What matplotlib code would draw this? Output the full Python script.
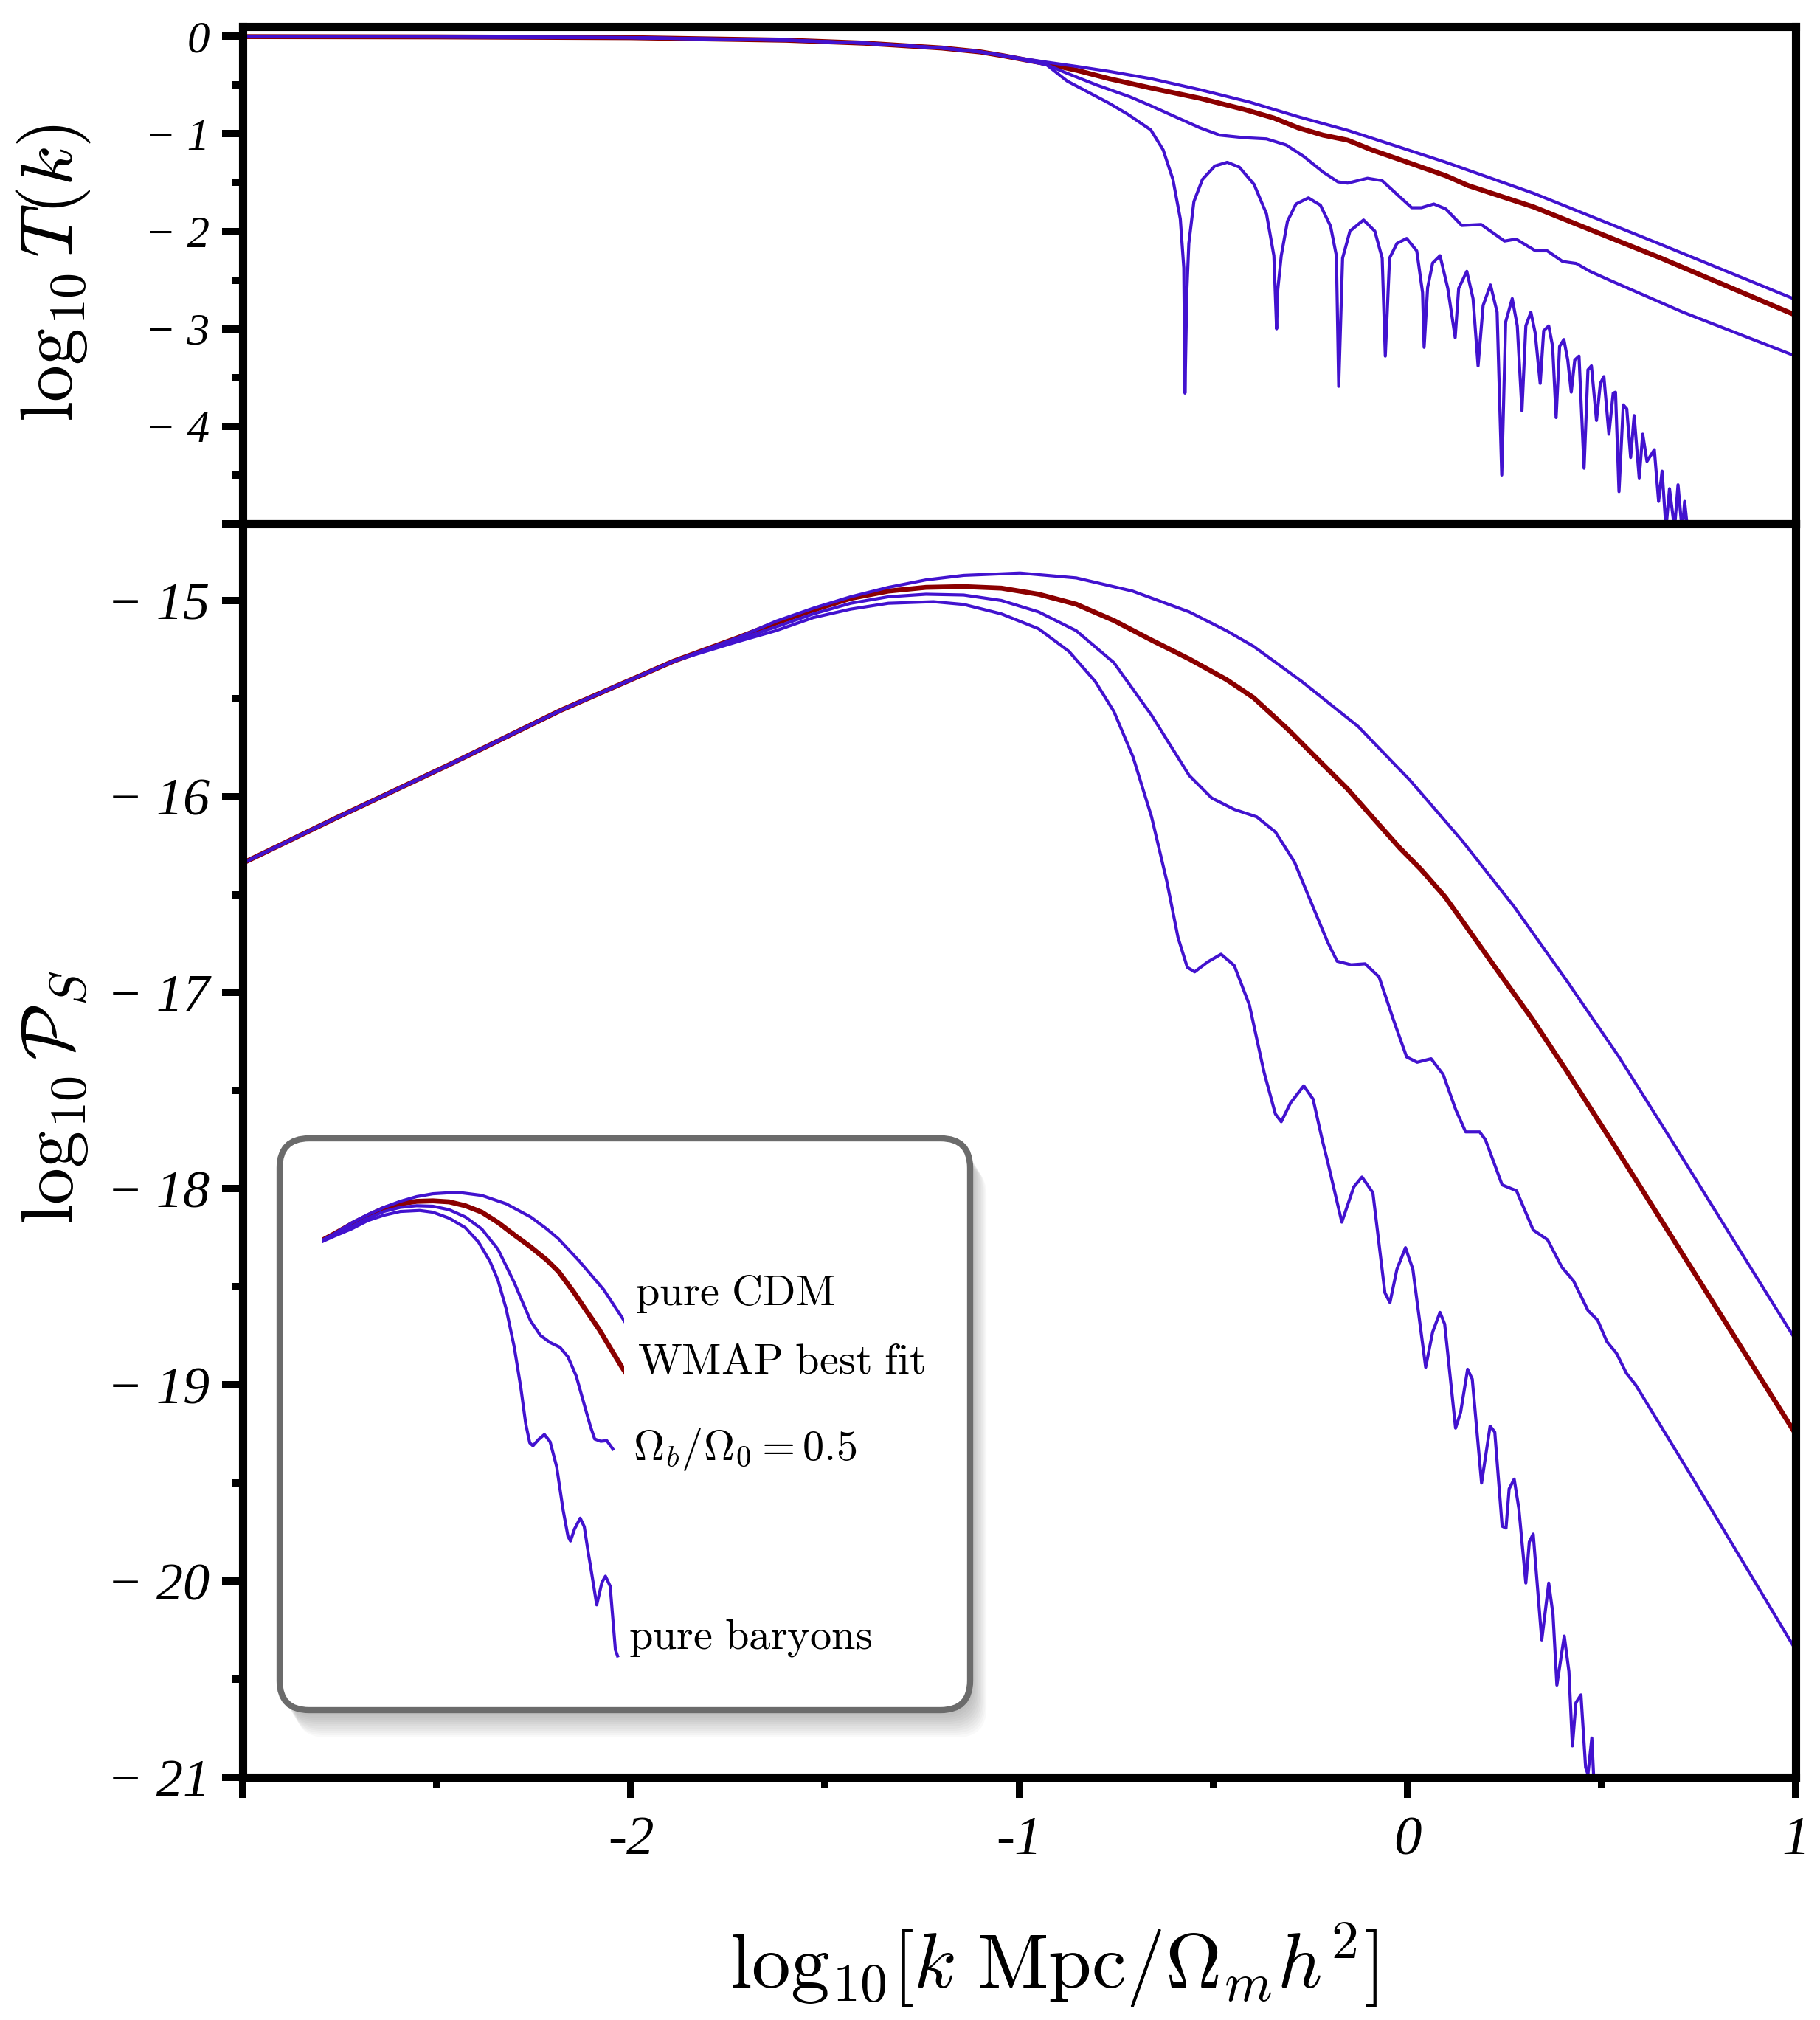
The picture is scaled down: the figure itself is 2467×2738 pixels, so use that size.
import numpy as np
import matplotlib
matplotlib.use('Agg')
import matplotlib.pyplot as plt
from matplotlib.patches import FancyBboxPatch

plt.rcParams['mathtext.fontset'] = 'cm'

# ---------------- top panel: log10 T(k) ----------------
xT_cdm = [-3.0, -2.5, -2.0, -1.6, -1.4, -1.2, -1.1, -1.04, -0.98, -0.93, -0.85, -0.768, -0.661, -0.534, -0.407,
          -0.281, -0.154, -0.027, 0.099, 0.325, 0.65, 1.0]
yT_cdm = [-0.003, -0.006, -0.014, -0.04, -0.07, -0.12, -0.16, -0.195, -0.235, -0.265, -0.31, -0.36, -0.434, -0.548,
          -0.674, -0.825, -0.964, -1.128, -1.292, -1.61, -2.13, -2.70]

xT_wmap = [-3.0, -2.5, -2.0, -1.6, -1.4, -1.2, -1.1, -1.04, -0.98, -0.93, -0.85, -0.768, -0.661, -0.534, -0.420,
           -0.344, -0.281, -0.217, -0.154, -0.091, -0.027, 0.036, 0.099, 0.156, 0.325, 0.65, 1.0]
yT_wmap = [-0.003, -0.006, -0.014, -0.04, -0.07, -0.12, -0.16, -0.2, -0.245, -0.28, -0.35, -0.435, -0.53, -0.636,
           -0.75, -0.838, -0.939, -1.014, -1.065, -1.166, -1.254, -1.342, -1.43, -1.53, -1.75, -2.27, -2.86]

xT_half = [-3.0, -2.5, -2.0, -1.6, -1.4, -1.2, -1.1, -1.04, -0.98, -0.93, -0.876, -0.80, -0.715, -0.661, -0.598,
           -0.534, -0.483, -0.420, -0.363, -0.312, -0.268, -0.217, -0.179, -0.154, -0.103, -0.065, -0.027, 0.011,
           0.036, 0.068, 0.099, 0.14, 0.19, 0.25, 0.28, 0.33, 0.36, 0.40, 0.435, 0.47, 0.52, 0.71, 1.0]
yT_half = [-0.003, -0.006, -0.014, -0.04, -0.07, -0.12, -0.16, -0.2, -0.25, -0.29, -0.38, -0.50, -0.62, -0.712,
           -0.825, -0.939, -1.014, -1.04, -1.052, -1.115, -1.229, -1.393, -1.493, -1.506, -1.456, -1.481, -1.62,
           -1.758, -1.758, -1.72, -1.771, -1.94, -1.93, -2.10, -2.08, -2.20, -2.20, -2.31, -2.33, -2.41, -2.50,
           -2.83, -3.28]

xT_bar = [-3.0, -2.5, -2.0, -1.6, -1.4, -1.2, -1.1, -1.04, -0.98, -0.93, -0.876, -0.768, -0.72, -0.661, -0.629,
          -0.604, -0.585, -0.576, -0.573, -0.568, -0.563, -0.550, -0.528, -0.496, -0.464, -0.433, -0.395, -0.363,
          -0.344, -0.337, -0.334, -0.325, -0.309, -0.287, -0.255, -0.224, -0.198, -0.183, -0.177, -0.167, -0.148,
          -0.113, -0.084, -0.065, -0.057, -0.046, -0.027, -0.002, 0.024, 0.039, 0.043, 0.052, 0.065, 0.084,
          0.104, 0.123, 0.132, 0.153, 0.169, 0.182, 0.195, 0.214, 0.231, 0.243, 0.253, 0.270, 0.283, 0.295,
          0.305, 0.318, 0.329, 0.342, 0.351, 0.364, 0.374, 0.383, 0.392, 0.403, 0.413, 0.422, 0.431, 0.442,
          0.455, 0.465, 0.474, 0.487, 0.497, 0.506, 0.519, 0.530, 0.536, 0.545, 0.556, 0.565, 0.575, 0.584,
          0.597, 0.606, 0.617, 0.636, 0.647, 0.656, 0.666, 0.675, 0.688, 0.697, 0.708, 0.714, 0.725]
yT_bar = [-0.003, -0.006, -0.014, -0.04, -0.07, -0.12, -0.16, -0.2, -0.25, -0.29, -0.46, -0.687, -0.80, -0.96,
          -1.166, -1.468, -1.872, -2.376, -3.66, -2.6, -2.124, -1.695, -1.468, -1.33, -1.292, -1.342, -1.519,
          -1.821, -2.25, -3.00, -2.6, -2.25, -1.897, -1.72, -1.657, -1.733, -1.947, -2.25, -3.59, -2.275, -1.998,
          -1.884, -1.998, -2.275, -3.28, -2.275, -2.124, -2.073, -2.2, -2.628, -3.19, -2.578, -2.325, -2.25,
          -2.585, -3.09, -2.585, -2.41, -2.69, -3.38, -2.76, -2.55, -2.83, -4.50, -2.93, -2.69, -2.97, -3.84,
          -2.97, -2.83, -3.04, -3.56, -3.02, -2.97, -3.18, -3.91, -3.18, -3.11, -3.32, -3.65, -3.32, -3.28,
          -4.43, -3.42, -3.38, -3.94, -3.56, -3.49, -4.08, -3.66, -3.65, -4.67, -3.78, -3.82, -4.32, -3.89,
          -4.53, -4.08, -4.36, -4.24, -4.77, -4.46, -5.05, -4.64, -5.05, -4.60, -5.09, -4.77, -5.19]

# ---------------- bottom panel: log10 P_S ----------------
xP_cdm = [-3.0, -2.76, -2.47, -2.18, -1.89, -1.724, -1.627, -1.530, -1.434, -1.337, -1.240, -1.143, -0.998,
          -0.853, -0.708, -0.562, -0.466, -0.396, -0.272, -0.127, 0.007, 0.142, 0.276, 0.41, 0.545, 0.674,
          0.877, 1.0]
yP_cdm = [-16.34, -16.11, -15.84, -15.56, -15.31, -15.19, -15.107, -15.04, -14.982, -14.934, -14.896, -14.873,
          -14.861, -14.886, -14.953, -15.059, -15.155, -15.235, -15.414, -15.643, -15.918, -16.228, -16.565,
          -16.938, -17.328, -17.733, -18.38, -18.77]

xP_wmap = [-3.0, -2.76, -2.47, -2.18, -1.89, -1.724, -1.627, -1.530, -1.434, -1.337, -1.240, -1.143, -1.046,
           -0.950, -0.853, -0.756, -0.659, -0.562, -0.466, -0.396, -0.306, -0.217, -0.154, -0.091, -0.019, 0.034,
           0.097, 0.142, 0.231, 0.321, 0.41, 0.518, 0.730, 1.0]
yP_wmap = [-16.34, -16.11, -15.84, -15.56, -15.31, -15.19, -15.116, -15.049, -14.99, -14.953, -14.934, -14.93,
           -14.938, -14.969, -15.02, -15.103, -15.203, -15.299, -15.404, -15.497, -15.661, -15.838, -15.962,
           -16.104, -16.264, -16.37, -16.512, -16.636, -16.885, -17.133, -17.399, -17.733, -18.40, -19.25]

xP_half = [-3.0, -2.76, -2.47, -2.18, -1.89, -1.724, -1.627, -1.530, -1.434, -1.337, -1.240, -1.143, -1.046,
           -0.950, -0.853, -0.756, -0.659, -0.562, -0.504, -0.446, -0.388, -0.340, -0.291, -0.243, -0.206, -0.181,
           -0.145, -0.109, -0.073, -0.037, -0.002, 0.025, 0.061, 0.092, 0.124, 0.15, 0.186, 0.201, 0.244, 0.281,
           0.324, 0.361, 0.398, 0.428, 0.465, 0.49, 0.514, 0.539, 0.564, 0.588, 0.73, 1.0]
yP_half = [-16.34, -16.11, -15.84, -15.56, -15.31, -15.20, -15.136, -15.069, -15.015, -14.982, -14.969, -14.973,
           -15.001, -15.059, -15.155, -15.318, -15.586, -15.893, -16.008, -16.066, -16.104, -16.181, -16.334,
           -16.564, -16.74, -16.84, -16.858, -16.853, -16.92, -17.133, -17.328, -17.355, -17.337, -17.417,
           -17.594, -17.71, -17.71, -17.75, -17.98, -18.01, -18.21, -18.26, -18.40, -18.47, -18.62, -18.67,
           -18.78, -18.84, -18.94, -19.0, -19.46, -20.35]

xP_bar = [-3.0, -2.76, -2.47, -2.18, -1.89, -1.724, -1.627, -1.530, -1.434, -1.337, -1.221, -1.143, -1.046,
          -0.950, -0.872, -0.804, -0.756, -0.707, -0.659, -0.620, -0.591, -0.567, -0.548, -0.514, -0.480, -0.446,
          -0.407, -0.369, -0.340, -0.325, -0.301, -0.267, -0.243, -0.219, -0.205, -0.169, -0.138, -0.117, -0.089,
          -0.058, -0.045, -0.027, -0.005, 0.014, 0.047, 0.065, 0.084, 0.096, 0.124, 0.137, 0.155, 0.167, 0.191,
          0.213, 0.225, 0.244, 0.254, 0.262, 0.275, 0.287, 0.305, 0.314, 0.324, 0.346, 0.364, 0.375, 0.385,
          0.404, 0.416, 0.425, 0.434, 0.447, 0.459, 0.465, 0.475, 0.481, 0.49]
yP_bar = [-16.34, -16.11, -15.84, -15.56, -15.31, -15.21, -15.155, -15.088, -15.045, -15.015, -15.007, -15.021,
          -15.069, -15.145, -15.26, -15.414, -15.567, -15.797, -16.104, -16.43, -16.718, -16.871, -16.894,
          -16.843, -16.804, -16.862, -17.063, -17.408, -17.619, -17.658, -17.562, -17.475, -17.543, -17.754,
          -17.866, -18.17, -17.99, -17.94, -18.02, -18.53, -18.58, -18.41, -18.30, -18.41, -18.91, -18.73,
          -18.63, -18.69, -19.22, -19.14, -18.92, -18.97, -19.50, -19.21, -19.24, -19.72, -19.73, -19.53,
          -19.48, -19.63, -20.01, -19.80, -19.76, -20.30, -20.01, -20.17, -20.53, -20.28, -20.46, -20.84,
          -20.62, -20.58, -20.95, -20.985, -20.80, -21.05, -21.3]

labels = [r'$\mathrm{pure\ CDM}$', r'$\mathrm{WMAP\ best\ fit}$', r'$\Omega_b/\Omega_0=0.5$',
          r'$\mathrm{pure\ baryons}$']

ticks_T = [0, -1, -2, -3, -4, -5]
ticks_P = [-15, -16, -17, -18, -19, -20, -21]
ticks_x = [-3, -2, -1, 0, 1]

BLUE = '#4212cf'
RED = '#8b0000'
W, H, DPI = 2467, 2738, 200


def ylab(v):
    if v == 0:
        return '0'
    return '\u2212 ' + str(abs(int(v)))


def style_axis(ax, lab_size):
    for s in ax.spines.values():
        s.set_linewidth(4)
    ax.tick_params(which='major', direction='out', length=10, width=3.6, right=False, top=False)
    ax.tick_params(which='minor', direction='out', length=5.5, width=3.6, right=False, top=False)
    ax.xaxis.set_minor_locator(plt.MultipleLocator(0.5))
    ax.yaxis.set_minor_locator(plt.MultipleLocator(0.5))
    for t in ax.get_yticklabels():
        t.set_fontfamily('Liberation Serif')
        t.set_fontstyle('italic')
        t.set_fontsize(lab_size)


def draw_curves(ax, sets):
    ax.plot(*sets[0], color=RED, lw=2.4, solid_joinstyle='round')
    for xs, ys in sets[1:]:
        ax.plot(xs, ys, color=BLUE, lw=1.5, solid_joinstyle='round')


fig = plt.figure(figsize=(W / DPI, H / DPI), dpi=DPI)
ax1 = fig.add_axes([329 / W, 1 - 710 / H, 2105 / W, 674 / H])
ax2 = fig.add_axes([329 / W, 1 - 2409 / H, 2105 / W, 1699 / H])

# top panel
draw_curves(ax1, [(xT_wmap, yT_wmap), (xT_cdm, yT_cdm), (xT_half, yT_half), (xT_bar, yT_bar)])
ax1.set_xlim(-3, 1)
ax1.set_ylim(-5, 0.1)
ax1.set_xticks(ticks_x)
ax1.set_xticklabels([])
ax1.set_yticks(ticks_T)
ax1.set_yticklabels([ylab(v) if v > -5 else '' for v in ticks_T])
style_axis(ax1, 22)
ax1.tick_params(axis='y', pad=6)

# bottom panel
draw_curves(ax2, [(xP_wmap, yP_wmap), (xP_cdm, yP_cdm), (xP_half, yP_half), (xP_bar, yP_bar)])
ax2.set_xlim(-3, 1)
ax2.set_ylim(-21, -14.61)
ax2.set_xticks(ticks_x)
ax2.set_xticklabels(['' if v == -3 else str(v) for v in ticks_x],
                    fontfamily='Liberation Serif', fontstyle='italic', fontsize=27)
ax2.set_yticks(ticks_P)
ax2.set_yticklabels([ylab(v) for v in ticks_P])
style_axis(ax2, 26)
ax2.tick_params(axis='y', pad=6)
ax2.tick_params(axis='x', pad=9)

# axis labels
fig.text(73 / W, 1 - 370 / H, r'$\log_{10}T(k)$', rotation=90, ha='center', va='center', fontsize=36)
fig.text(73 / W, 1 - 1488 / H, r'$\log_{10}\mathcal{P}_S$', rotation=90, ha='center', va='center', fontsize=36)
fig.text(1428 / W, 1 - 2664 / H, r'$\mathrm{log}_{10}[k\ \mathrm{Mpc}/\Omega_m h^2]$', ha='center', va='center',
         fontsize=38)

# legend box with soft shadow
bx, by, bw, bh = 379, H - 2318, 936, 775
for i in range(12):
    off = 4 + 3 * i
    sh = FancyBboxPatch(((bx + off * 0.6) / DPI, (by - off) / DPI), bw / DPI, bh / DPI,
                        boxstyle='round,pad=0,rounding_size=0.2', transform=fig.dpi_scale_trans,
                        fc='black', ec='none', alpha=0.025, zorder=2)
    fig.add_artist(sh)
box = FancyBboxPatch((bx / DPI, by / DPI), bw / DPI, bh / DPI,
                     boxstyle='round,pad=0,rounding_size=0.2', transform=fig.dpi_scale_trans,
                     fc='white', ec='#6b6b6b', lw=3, zorder=3)
fig.add_artist(box)

# miniature of the lower panel inside the box
axi = fig.add_axes([437 / W, 1 - 2250 / H, 409 / W, 650 / H], zorder=4)
axi.patch.set_visible(False)
axi.axis('off')
xh = np.array(xP_half)
xb = np.array(xP_bar)
draw_curves(axi, [(xP_wmap, yP_wmap), (xP_cdm, yP_cdm),
                  (xh[xh <= -0.05], np.array(yP_half)[xh <= -0.05]),
                  (xb[xb <= -0.04], np.array(yP_bar)[xb <= -0.04])])
axi.set_xlim(-1.80, -0.006)
axi.set_ylim(-18.612, -14.766)

lab_pos = [(861, 1754), (864, 1846), (858, 1964), (852, 2219)]
for (px, py), txt in zip(lab_pos, labels):
    fig.text(px / W, 1 - py / H, txt, ha='left', va='center', fontsize=21, zorder=5)

fig.savefig('out.png', dpi=DPI)
